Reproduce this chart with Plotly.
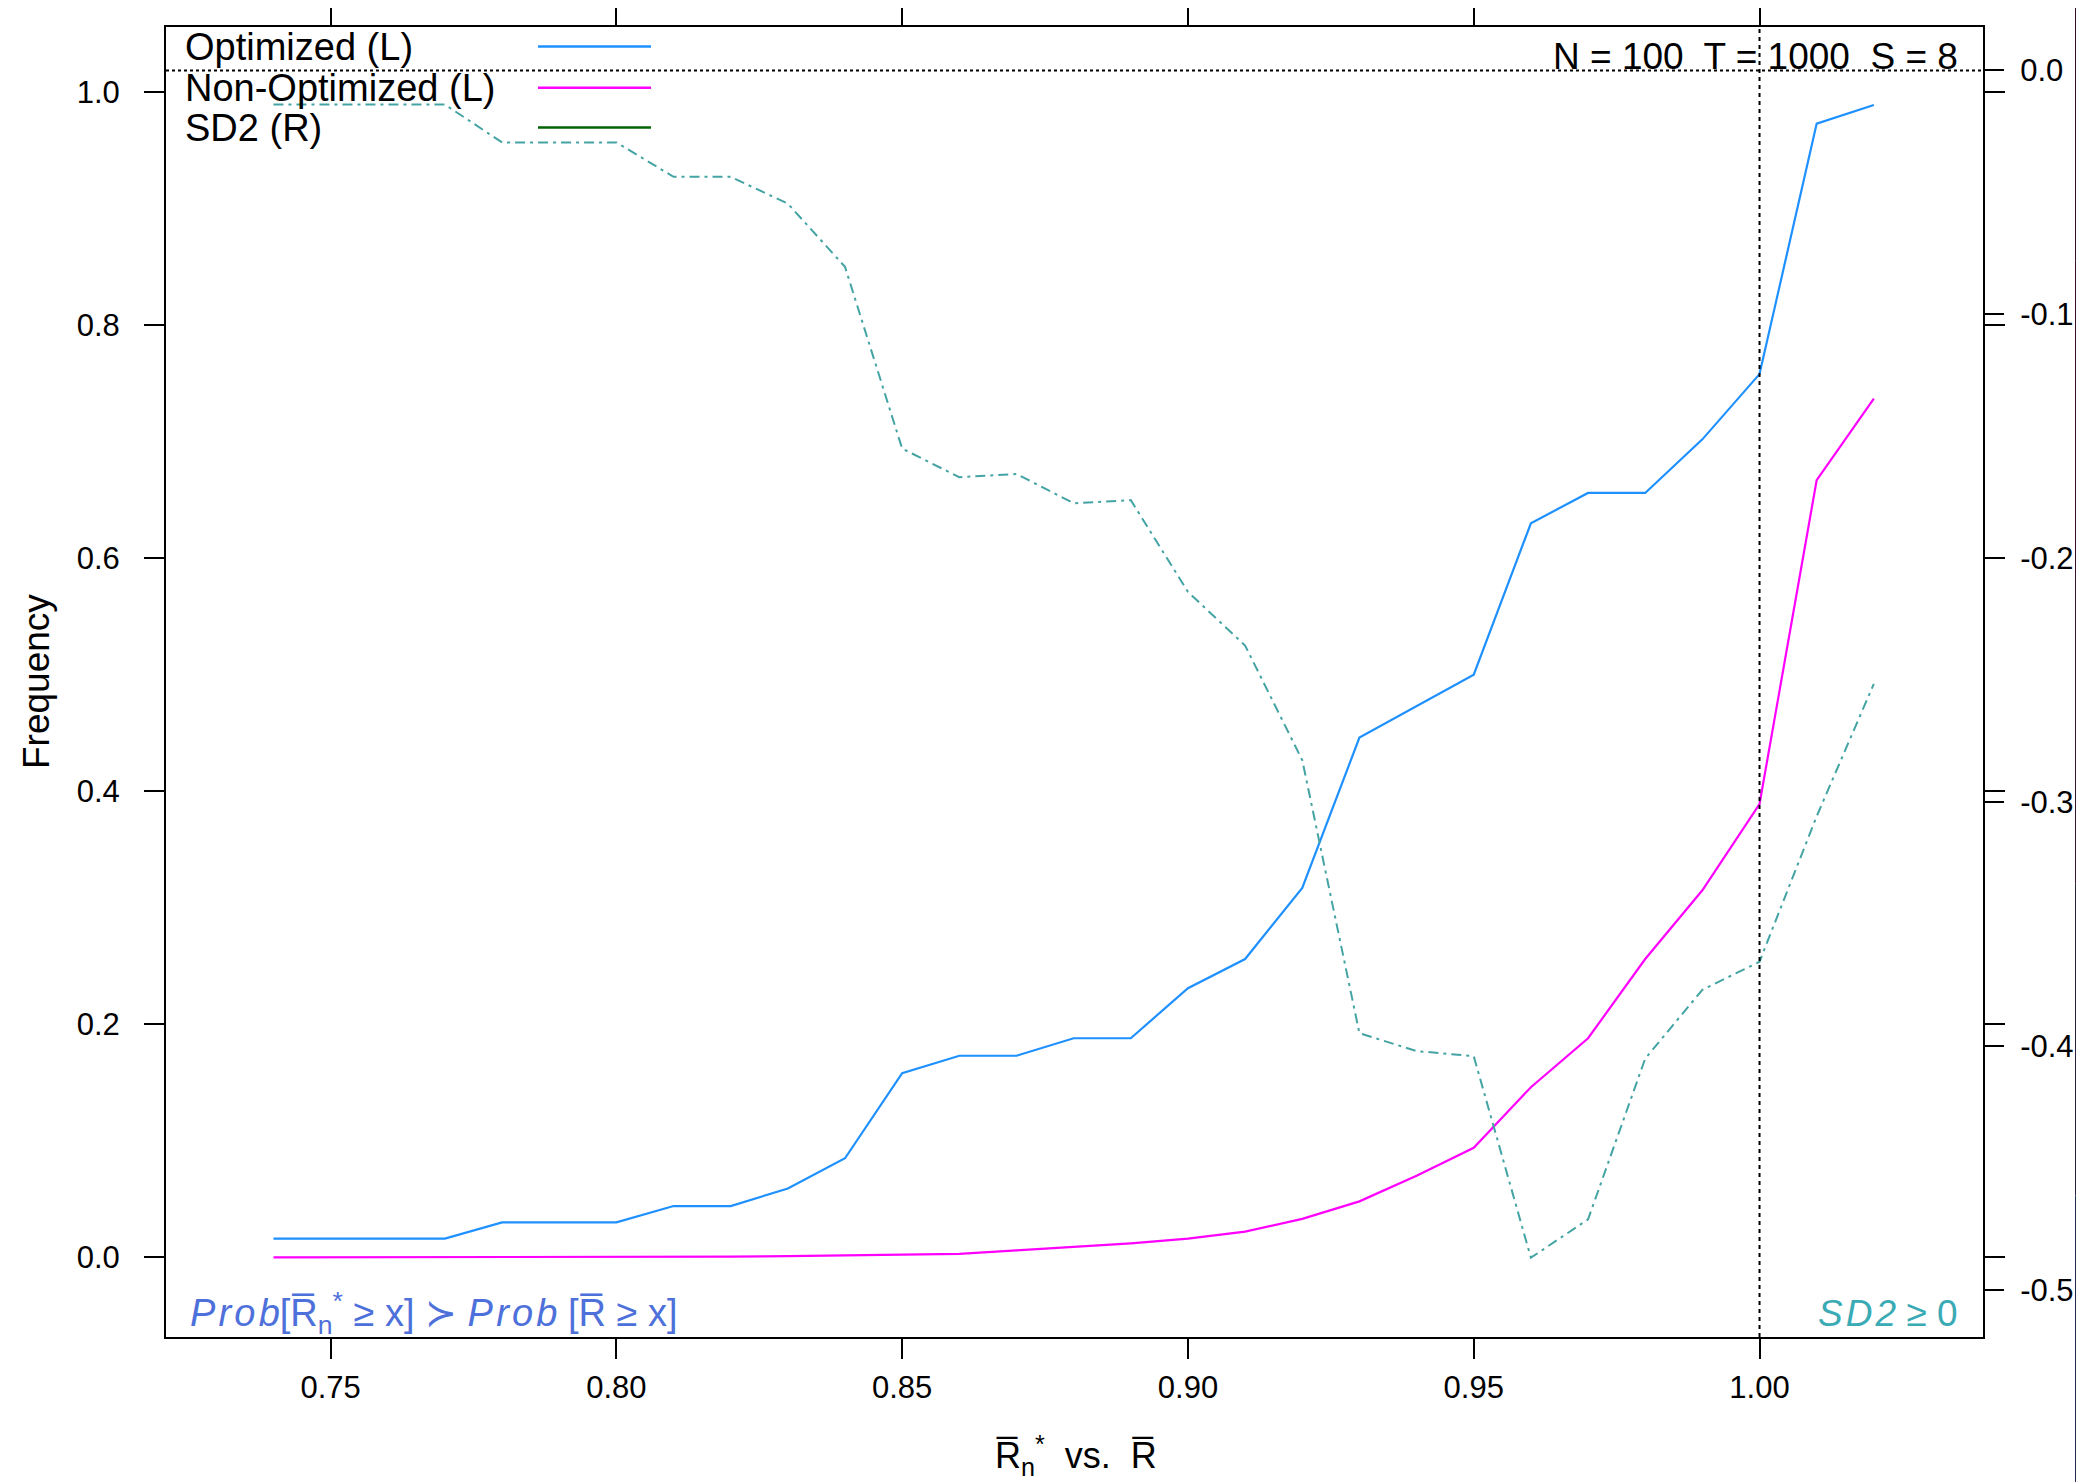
import plotly.graph_objects as go

# ---------------- data ----------------
x_vals = [0.74, 0.75, 0.76, 0.77, 0.78, 0.79, 0.80, 0.81, 0.82, 0.83,
          0.84, 0.85, 0.86, 0.87, 0.88, 0.89, 0.90, 0.91, 0.92, 0.93,
          0.94, 0.95, 0.96, 0.97, 0.98, 0.99, 1.00, 1.01, 1.02]

optimized = [0.016, 0.016, 0.016, 0.016, 0.030, 0.030, 0.030, 0.044, 0.044, 0.059,
             0.085, 0.158, 0.173, 0.173, 0.188, 0.188, 0.231, 0.256, 0.317, 0.446,
             0.473, 0.500, 0.630, 0.656, 0.656, 0.702, 0.758, 0.973, 0.989]

non_optimized = [0.000, 0.000, 0.000, 0.000, 0.000, 0.000, 0.000, 0.000, 0.0005, 0.001,
                 0.0015, 0.002, 0.003, 0.006, 0.009, 0.012, 0.016, 0.022, 0.033, 0.048,
                 0.070, 0.094, 0.146, 0.188, 0.256, 0.315, 0.389, 0.667, 0.737]

sd2 = [-0.014, -0.014, -0.014, -0.014, -0.0295, -0.0295, -0.0295, -0.0436, -0.0436, -0.0546,
       -0.0805, -0.155, -0.1667, -0.1654, -0.1774, -0.1761, -0.2137, -0.2357, -0.2827, -0.3946,
       -0.4019, -0.404, -0.4866, -0.4709, -0.405, -0.3768, -0.3653, -0.3057, -0.2514]

x_tickvals = [0.75, 0.80, 0.85, 0.90, 0.95, 1.00]
y_tickvals = [0.0, 0.2, 0.4, 0.6, 0.8, 1.0]
y2_tickvals = [0.0, -0.1, -0.2, -0.3, -0.4, -0.5]
y2_ticktext = ["0.0", "-0.1", "-0.2", "-0.3", "-0.4", "-0.5"]

legend_labels = ["Optimized (L)", "Non-Optimized (L)", "SD2 (R)"]
legend_colors = ["#1E90FF", "#FF00FF", "#006400"]

ref_x = 1.00
ref_y2 = 0.0

# ---------------- layout geometry ----------------
# the page body has an 8px default margin, so the figure is placed at (8, 8)
OFF = 8
W, H = 2084 - OFF, 1482 - OFF
L, T = 166 - OFF, 27 - OFF
PW, PH = 1817, 1310
R = W - L - PW
B = H - T - PH

def px(xp):   # page pixel x -> paper fraction
    return (xp - OFF - L) / PW

def py(yp):   # page pixel y -> paper fraction
    return (T + PH - (yp - OFF)) / PH

FONT = "Liberation Sans, Arial, Helvetica, sans-serif"

fig = go.Figure()

fig.add_trace(go.Scatter(x=x_vals, y=optimized, mode="lines", name="Optimized (L)",
                         line=dict(color="#1E90FF", width=2.2), yaxis="y", showlegend=False))
fig.add_trace(go.Scatter(x=x_vals, y=non_optimized, mode="lines", name="Non-Optimized (L)",
                         line=dict(color="#FF00FF", width=2.2), yaxis="y", showlegend=False))
fig.add_trace(go.Scatter(x=x_vals, y=sd2, mode="lines", name="SD2 (R)",
                         line=dict(color="#44A3A3", width=2, dash="10px,5px,3px,5px"),
                         yaxis="y2", showlegend=False))

shapes = []
shapes.append(dict(type="line", xref="paper", yref="y2", x0=0, x1=1, y0=ref_y2, y1=ref_y2,
                   line=dict(color="black", width=2, dash="3px,3px"), layer="above"))
shapes.append(dict(type="line", xref="x", yref="paper", x0=ref_x, x1=ref_x, y0=0, y1=1,
                   line=dict(color="black", width=2, dash="4px,4px"), layer="above"))

annotations = []
leg_y = [46.5, 87.7, 127.6]
for lab, col, yy in zip(legend_labels, legend_colors, leg_y):
    annotations.append(dict(text=lab, xref="paper", yref="paper", x=px(183), y=py(yy),
                            xanchor="left", yanchor="middle", showarrow=False,
                            font=dict(family=FONT, size=38, color="black")))
    shapes.append(dict(type="line", xref="paper", yref="paper", x0=px(538), x1=px(651),
                       y0=py(yy), y1=py(yy), line=dict(color=col, width=2.5)))

annotations.append(dict(text="N = 100  T = 1000  S = 8", xref="paper", yref="paper",
                        x=px(1960), y=py(56), xanchor="right", yanchor="middle", showarrow=False,
                        font=dict(family=FONT, size=37, color="black")))

hs = "\u200a"
prob = "<i>P" + hs + "r" + hs + "o" + hs + "b</i>"
annotations.append(dict(text=prob + "[R\u0305<sub>n</sub><sup>*</sup> \u2265 x] \u227b " + prob + " [R\u0305 \u2265 x]",
                        xref="paper", yref="paper", x=px(188), y=py(1313),
                        xanchor="left", yanchor="middle", showarrow=False,
                        font=dict(family=FONT, size=38, color="#4D70DA")))
annotations.append(dict(text="<i>S" + hs + "D" + hs + "2</i> \u2265 0", xref="paper", yref="paper",
                        x=px(1960), y=py(1313), xanchor="right", yanchor="middle", showarrow=False,
                        font=dict(family=FONT, size=37, color="#3AAAB5")))

annotations.append(dict(text="Frequency", xref="paper", yref="paper", x=px(36), y=py(682),
                        xanchor="center", yanchor="middle", textangle=-90, showarrow=False,
                        font=dict(family=FONT, size=37, color="black")))
annotations.append(dict(text="R\u0305<sub>n</sub><sup>*</sup>  vs.  R\u0305", xref="paper", yref="paper",
                        x=px(1076), y=py(1455), xanchor="center", yanchor="middle", showarrow=False,
                        font=dict(family=FONT, size=36, color="black")))

# dark strip at the right edge of the screenshot
strip_cols = ["#1f2c4b", "#2b2140", "#351633", "#3a0f2b", "#300b24"]
n = len(strip_cols)
for i, c in enumerate(strip_cols):
    y0 = -0.13 + (1.06 + 0.13) * i / n
    y1 = -0.13 + (1.06 + 0.13) * (i + 1) / n
    shapes.append(dict(type="rect", xref="paper", yref="paper", x0=px(2075), x1=px(2100),
                       y0=y0, y1=y1, fillcolor=c, line=dict(width=0), layer="above"))

axis_common = dict(ticks="outside", ticklen=20, tickwidth=2, tickcolor="black",
                   showgrid=False, zeroline=False,
                   tickfont=dict(family=FONT, size=31, color="black"))

fig.update_layout(
    width=W, height=H,
    margin=dict(l=L, r=R, t=T, b=B, autoexpand=False),
    paper_bgcolor="white", plot_bgcolor="white",
    showlegend=False,
    xaxis=dict(range=[0.7212, 1.0391], tickvals=x_tickvals, tickformat=".2f",
               showline=True, linecolor="black", linewidth=2, mirror="ticks",
               ticklabelstandoff=2, **axis_common),
    yaxis=dict(range=[-0.0684, 1.0559], tickvals=y_tickvals, tickformat=".1f",
               showline=True, linecolor="black", linewidth=2, mirror="ticks",
               ticklabelstandoff=18, **axis_common),
    yaxis2=dict(range=[-0.5191, 0.0178], tickvals=y2_tickvals, ticktext=y2_ticktext,
                overlaying="y", side="right", showline=False, anchor="x",
                ticklabelstandoff=10, **axis_common),
    shapes=shapes,
    annotations=annotations,
)

fig.write_html("out.html")
